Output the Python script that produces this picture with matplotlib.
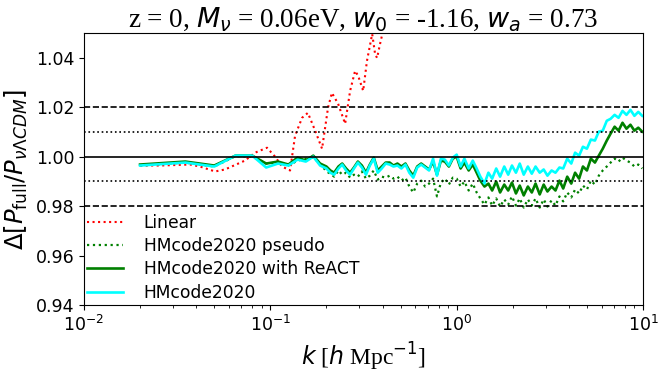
import numpy as np
import matplotlib
matplotlib.use("Agg")
import matplotlib.pyplot as plt

plt.rcParams['mathtext.fontset'] = 'dejavusans'

# linear theory ratio (smooth, with BAO wiggles)
k_lin = [0.020, 0.0256, 0.0371, 0.0419, 0.0505, 0.0571, 0.0731, 0.0828, 0.096,
         0.106, 0.1156, 0.1276, 0.1358, 0.148, 0.159, 0.174, 0.1895, 0.204,
         0.214, 0.231, 0.252, 0.268, 0.285, 0.296, 0.315, 0.330, 0.352, 0.365,
         0.374, 0.388, 0.403]
r_lin = [0.9964, 0.9964, 0.9968, 0.9960, 0.9940, 0.9948, 0.9984, 1.0016, 1.0036,
         1.0000, 0.9960, 0.9944, 1.0085, 1.0157, 1.0177, 1.0105, 1.0032, 1.0198,
         1.0258, 1.0214, 1.0133, 1.0266, 1.0347, 1.0327, 1.0266, 1.0387, 1.0496,
         1.0415, 1.0399, 1.0456, 1.0510]

# simulation wavenumbers
k_sim = [0.020, 0.035, 0.050, 0.065, 0.080, 0.095, 0.110, 0.125, 0.140, 0.155,
         0.170, 0.185, 0.200,
         0.21, 0.22, 0.232, 0.243, 0.255, 0.268, 0.281, 0.295, 0.31, 0.326,
         0.342, 0.359, 0.377, 0.396, 0.416, 0.437, 0.458, 0.481, 0.505, 0.531,
         0.557, 0.585, 0.614, 0.645, 0.677, 0.711, 0.747, 0.784, 0.823, 0.864,
         0.908, 0.953, 1.0, 1.05, 1.10, 1.16, 1.22, 1.28, 1.34, 1.41,
         1.48, 1.55, 1.63, 1.71, 1.80, 1.89, 1.98, 2.08, 2.18, 2.29,
         2.41, 2.53, 2.65, 2.79, 2.93, 3.07, 3.23, 3.39, 3.56, 3.73,
         3.92, 4.12, 4.32, 4.54, 4.76, 5.0, 5.25, 5.52, 5.79, 6.08,
         6.39, 6.70, 7.04, 7.39, 7.76, 8.15, 8.56, 8.99, 9.43, 9.90]

r_pseudo = [0.9964, 0.9976, 0.9960, 1.0002, 1.0000, 0.9972, 0.9976, 0.9964, 0.9984, 0.9992,
            0.9996, 0.9972, 0.9940,
            0.9931, 0.9919, 0.9944, 0.9927, 0.9935, 0.9915, 0.9927, 0.9919, 0.9940, 0.9911,
            0.9923, 0.9944, 0.9907, 0.9919, 0.9915, 0.9923, 0.9911, 0.9919, 0.9903, 0.9915,
            0.9879, 0.9855, 0.9891, 0.9903, 0.9879, 0.9891, 0.9911, 0.9839, 0.9895, 0.9911,
            0.9887, 0.9915, 0.9911, 0.9879, 0.9899, 0.9863, 0.9891, 0.9855, 0.9831, 0.9806,
            0.9835, 0.9802, 0.9831, 0.9798, 0.9827, 0.9806, 0.9839, 0.9802, 0.9831, 0.9794,
            0.9827, 0.9802, 0.9831, 0.9794, 0.9827, 0.9798, 0.9823, 0.9802, 0.9839, 0.9819,
            0.9855, 0.9835, 0.9867, 0.9851, 0.9883, 0.9867, 0.9903, 0.9887, 0.9923, 0.9944,
            0.9960, 0.9976, 0.9992, 0.9980, 0.9996, 0.9984, 0.9976, 0.9960, 0.9968, 0.9952]

r_react = [0.9968, 0.9980, 0.9964, 1.0004, 1.0004, 0.9972, 0.9980, 0.9968, 0.9996, 0.9984,
           1.0004, 0.9972, 0.9960,
           0.9944, 0.9935, 0.9960, 0.9972, 0.9952, 0.9935, 0.9956, 0.9980, 0.9964, 0.9935,
           0.9968, 0.9996, 0.9944, 0.9960, 0.9976, 0.9976, 0.9964, 0.9972, 0.9960, 0.9972,
           0.9944, 0.9923, 0.9960, 0.9972, 0.9960, 0.9948, 0.9980, 0.9927, 0.9984, 0.9980,
           0.9960, 0.9992, 1.0000, 0.9952, 0.9976, 0.9944, 0.9968, 0.9935, 0.9903, 0.9879,
           0.9891, 0.9863, 0.9899, 0.9855, 0.9887, 0.9863, 0.9895, 0.9851, 0.9883, 0.9843,
           0.9879, 0.9855, 0.9891, 0.9847, 0.9887, 0.9859, 0.9879, 0.9863, 0.9903, 0.9871,
           0.9919, 0.9891, 0.9935, 0.9911, 0.9960, 0.9944, 0.9992, 0.9976, 1.0004, 1.0032,
           1.0065, 1.0093, 1.0121, 1.0105, 1.0137, 1.0113, 1.0129, 1.0105, 1.0117, 1.0101]

r_hmcode = [0.9964, 0.9976, 0.9960, 1.0004, 1.0004, 0.9956, 0.9972, 0.9964, 0.9988, 0.9980,
            1.0000, 0.9964, 0.9952,
            0.9935, 0.9927, 0.9952, 0.9968, 0.9944, 0.9927, 0.9952, 0.9976, 0.9956, 0.9927,
            0.9964, 0.9992, 0.9935, 0.9952, 0.9972, 0.9968, 0.9960, 0.9964, 0.9952, 0.9968,
            0.9935, 0.9915, 0.9956, 0.9968, 0.9956, 0.9944, 0.9992, 0.9923, 0.9992, 0.9988,
            0.9964, 0.9996, 1.0008, 0.9960, 0.9992, 0.9952, 0.9984, 0.9952, 0.9919, 0.9891,
            0.9935, 0.9911, 0.9952, 0.9919, 0.9960, 0.9927, 0.9964, 0.9935, 0.9972, 0.9927,
            0.9960, 0.9931, 0.9960, 0.9935, 0.9948, 0.9923, 0.9944, 0.9935, 0.9956, 0.9952,
            0.9992, 0.9972, 1.0016, 1.0004, 1.0040, 1.0032, 1.0069, 1.0065, 1.0101, 1.0105,
            1.0145, 1.0153, 1.0169, 1.0157, 1.0185, 1.0169, 1.0189, 1.0165, 1.0181, 1.0165]

fig = plt.figure(figsize=(6.66, 3.75), dpi=100)
ax = fig.add_axes([0.1261, 0.1867, 0.8394, 0.7253])

ax.plot(k_lin, r_lin, color='red', linestyle=':', linewidth=1.5, label='Linear')
ax.plot(k_sim, r_pseudo, color='green', linestyle=':', linewidth=1.6, label='HMcode2020 pseudo')
ax.plot(k_sim, r_react, color='green', linestyle='-', linewidth=1.9, label='HMcode2020 with ReACT')
ax.plot(k_sim, r_hmcode, color='cyan', linestyle='-', linewidth=1.9, label='HMcode2020')

ax.axhline(1.0, color='k', linewidth=1.2)
ax.axhline(1.02, color='k', linestyle='--', linewidth=1.2)
ax.axhline(0.98, color='k', linestyle='--', linewidth=1.2)
ax.axhline(1.01, color='k', linestyle=':', linewidth=1.2)
ax.axhline(0.99, color='k', linestyle=':', linewidth=1.2)

ax.set_xscale('log')
ax.set_xlim(1e-2, 1e1)
ax.set_ylim(0.94, 1.05)
ax.set_yticks([0.94, 0.96, 0.98, 1.00, 1.02, 1.04])
ax.set_yticklabels(['0.94', '0.96', '0.98', '1.00', '1.02', '1.04'])
ax.tick_params(labelsize=12.5)

ax.set_title(r'z = 0, $M_\nu$ = 0.06eV, $w_0$ = -1.16, $w_a$ = 0.73',
             family='Liberation Serif', fontsize=19.5, pad=5)
ax.set_xlabel(r'$k$ [$h$ Mpc$^{-1}$]', family='Liberation Serif', fontsize=17)
ax.set_ylabel(r'$\Delta[P_{\rm full}/P_{\nu\Lambda CDM}]$', fontsize=17.5)

ax.legend(loc='lower left', frameon=False, fontsize=12.3, handlelength=2.1,
          handletextpad=1.2, labelspacing=0.3, borderaxespad=0.1, borderpad=0.1)

fig.savefig('out.png', dpi=100)
